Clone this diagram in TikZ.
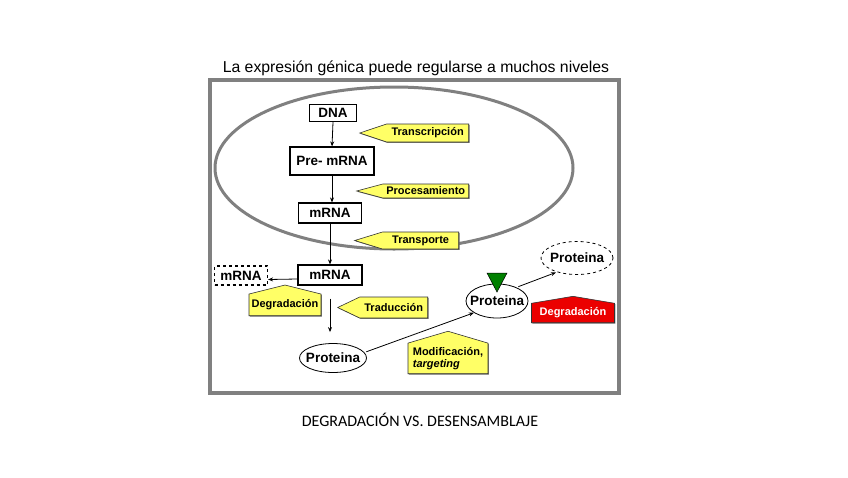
\documentclass[tikz,border=0pt]{standalone}
\usepackage{fontspec}
\setmainfont{Liberation Sans}
\newfontfamily\captionfont{Carlito}
\usetikzlibrary{arrows.meta, shapes.geometric, shapes.symbols, shadows}

\definecolor{framegray}{RGB}{128,128,128}
\definecolor{tagyellow}{RGB}{255,255,102}
\definecolor{tagred}{RGB}{235,0,0}
\definecolor{markgreen}{RGB}{0,128,0}

\tikzset{
  stepbox/.style={draw, line width=1.2pt, inner sep=0pt,
    font=\bfseries\fontsize{13.5}{15}\selectfont},
  protein/.style={ellipse, draw, line width=0.8pt, inner sep=0pt,
    label={[font=\bfseries\fontsize{13.5}{15}\selectfont]center:Proteina}},
  tag/.style={shape=signal, signal from=nowhere, draw=black!80, fill=tagyellow,
    line width=0.6pt, inner sep=0pt,
    font=\bfseries\fontsize{11}{12}\selectfont,
    drop shadow={shadow xshift=0.8pt, shadow yshift=-0.8pt, fill=black!55, opacity=1}},
  tagleft/.style={tag, signal to=west},
  tagup/.style={tag, signal to=north},
  flow/.style={-{Stealth[length=5pt, width=4pt]}, line width=0.8pt}
}

\begin{document}
\begin{tikzpicture}[x=1pt, y=-1pt]
  \useasboundingbox (0,0) rectangle (848,477);
  % Frame and nucleus
  \draw[framegray, line width=4pt] (210,80) rectangle (619,393);
  \draw[framegray, line width=3pt] (394,168) ellipse [x radius=179pt, y radius=81pt];
  % Title and caption
  \node[anchor=base, font=\fontsize{15.8}{18}\selectfont] (title) at (416,72)
    {La expresión génica puede regularse a muchos niveles};
  \node[anchor=base, font=\captionfont\fontsize{16}{18}\selectfont] (caption) at (420,426)
    {DEGRADACIÓN VS. DESENSAMBLAJE};
  % Steps
  \node[stepbox, minimum width=47pt, minimum height=17pt] (dna) at (333,113) {DNA};
  \node[stepbox, minimum width=84pt, minimum height=28pt] (pre) at (332,161) {Pre- mRNA};
  \node[stepbox, minimum width=63pt, minimum height=20pt] (mrna) at (330,213) {mRNA};
  \node[stepbox, minimum width=64pt, minimum height=20pt] (mrnab) at (330,275) {mRNA};
  \node[stepbox, dashed, minimum width=53pt, minimum height=19pt] (mrnad) at (241,275.5) {mRNA};
  % Proteins
  \node[protein, minimum width=67pt, minimum height=29pt] (prot1) at (333,358) {};
  \node[protein, minimum width=62pt, minimum height=34pt] (prot2) at (497,301) {};
  \node[protein, dashed, minimum width=72pt, minimum height=33pt] (prot3) at (577,258) {};
  \draw[fill=markgreen, line width=0.5pt] (487,273) -- (507,273) -- (497,292) -- cycle;
  % Regulation tags
  \node[tagleft, signal pointer angle=37, minimum width=109pt, minimum height=18pt, anchor=east]
    (ttrans) at (469,133) {Transcripción};
  \node[tagleft, signal pointer angle=30, minimum width=112pt, minimum height=14pt, anchor=east]
    (tproc) at (469,191) {Procesamiento};
  \node[tagleft, signal pointer angle=34, minimum width=104pt, minimum height=17pt, anchor=east]
    (ttransp) at (459,240.5) {Transporte};
  \node[tagleft, signal pointer angle=51, minimum width=90pt, minimum height=21pt, anchor=east]
    (ttrad) at (428,307.5) {Traducción};
  \node[tagup, signal pointer angle=152, minimum width=72pt, minimum height=30pt, anchor=south]
    (tdeg) at (285,316) {Degradación};
  \node[tagup, signal pointer angle=147, minimum width=80pt, minimum height=41pt, anchor=south,
    align=left] (tmod) at (448,374) {Modificación,\\\textit{targeting}};
  \node[tagup, fill=tagred, text=white, signal pointer angle=161, minimum width=83pt,
    minimum height=25pt, anchor=south] (tdegr) at (573,323) {Degradación};
  % Connectors
  \draw[flow] (dna.south) -- (pre.north);
  \draw[flow] (pre.south) -- (pre.south |- mrna.north);
  \draw[flow] (mrna.south) -- (mrna.south |- mrnab.north);
  \draw[flow] ([yshift=-4pt]mrnab.west) -- ([yshift=-4pt]mrnad.east);
  \draw[flow, shorten <=13pt, shorten >=11pt] (mrnab.south) -- (mrnab.south |- prot1.north);
  \draw[flow, shorten <=2pt] (prot1.10) -- (prot2.207);
  \draw[flow, shorten <=2pt, shorten >=1pt] (prot2.35) -- (prot3.215);
\end{tikzpicture}
\end{document}
